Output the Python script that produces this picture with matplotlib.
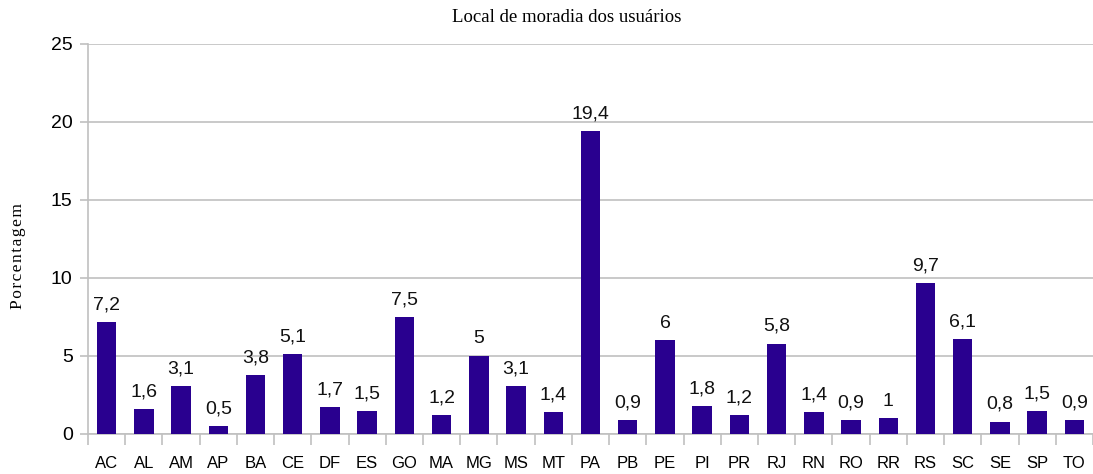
import matplotlib
matplotlib.use("Agg")
import matplotlib.pyplot as plt
import numpy as np

categories = ["AC", "AL", "AM", "AP", "BA", "CE", "DF", "ES", "GO", "MA", "MG", "MS", "MT",
              "PA", "PB", "PE", "PI", "PR", "RJ", "RN", "RO", "RR", "RS", "SC", "SE", "SP", "TO"]
values = [7.2, 1.6, 3.1, 0.5, 3.8, 5.1, 1.7, 1.5, 7.5, 1.2, 5, 3.1, 1.4,
          19.4, 0.9, 6, 1.8, 1.2, 5.8, 1.4, 0.9, 1, 9.7, 6.1, 0.8, 1.5, 0.9]
yticks = [0, 5, 10, 15, 20, 25]

W, H = 1093, 474
fig = plt.figure(figsize=(W / 100, H / 100), dpi=100)
ax = fig.add_axes([88 / W, 1 - 434 / H, (1093 - 88) / W, (434 - 44) / H])

x = np.arange(len(categories))
bar_color = "#29008f"
ax.bar(x, values, width=0.52, color=bar_color, zorder=3)

for xi, v in zip(x, values):
    label = ("%g" % v).replace(".", ",")
    ax.text(xi, v + 0.55, label, ha="center", va="bottom",
            fontsize=14, family="Liberation Sans", color="#111111")

ax.set_xlim(-0.5, len(categories) - 0.5)
ax.set_ylim(0, 25)
ax.set_yticks(yticks)
ax.set_yticklabels([str(t) for t in yticks], family="Liberation Sans", fontsize=14)
ax.yaxis.grid(True, color="#c0c0c0", linewidth=1.2, zorder=0)
ax.set_axisbelow(True)

# category labels centred, ticks at category boundaries
ax.set_xticks(x)
ax.set_xticklabels(categories, family="Liberation Sans", fontsize=12)
ax.tick_params(axis="x", which="major", length=0, pad=16)
ax.set_xticks(np.arange(len(categories) + 1) - 0.5, minor=True)
ax.tick_params(axis="x", which="minor", length=8, color="#c0c0c0", width=1.2)
ax.tick_params(axis="y", length=6, color="#c0c0c0", width=1.2, pad=5)

for s in ["top", "right"]:
    ax.spines[s].set_visible(False)
for s in ["left", "bottom"]:
    ax.spines[s].set_color("#c0c0c0")
    ax.spines[s].set_linewidth(1.2)

fig.text(18 / W, 1 - 256 / H, "\u200a".join("Porcentagem"),
         rotation=90, ha="center", va="center", family="Liberation Serif", fontsize=12.5)
fig.text(567 / W, 1 - 17 / H, "Local de moradia dos usuários", ha="center", va="center",
         family="Liberation Serif", fontsize=13.5)

fig.savefig("out.png", dpi=100)
